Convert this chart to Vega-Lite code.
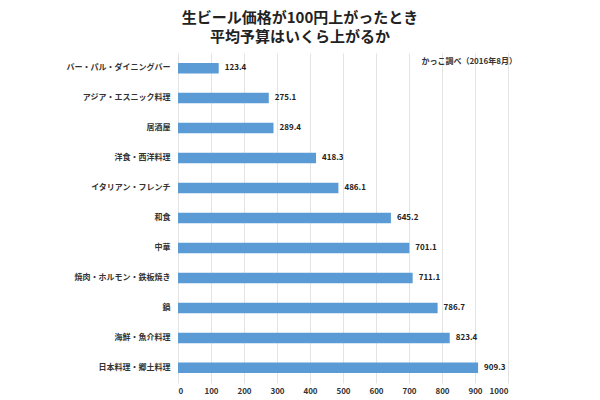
{
  "$schema": "https://vega.github.io/schema/vega-lite/v6.json",
  "autosize": "none",
  "width": 330,
  "height": 330,
  "padding": {"left": 178, "top": 53, "right": 92, "bottom": 17},
  "background": "white",
  "title": {
    "text": ["生ビール価格が100円上がったとき", "平均予算はいくら上がるか"],
    "font": "Noto Sans CJK JP",
    "fontSize": 15,
    "fontWeight": "bold",
    "color": "#222222",
    "lineHeight": 19,
    "anchor": "middle",
    "dx": -43,
    "offset": 8
  },
  "data": {
    "values": [
      {"category": "バー・パル・ダイニングバー", "value": 123.4},
      {"category": "アジア・エスニック料理", "value": 275.1},
      {"category": "居酒屋", "value": 289.4},
      {"category": "洋食・西洋料理", "value": 418.3},
      {"category": "イタリアン・フレンチ", "value": 486.1},
      {"category": "和食", "value": 645.2},
      {"category": "中華", "value": 701.1},
      {"category": "焼肉・ホルモン・鉄板焼き", "value": 711.1},
      {"category": "鍋", "value": 786.7},
      {"category": "海鮮・魚介料理", "value": 823.4},
      {"category": "日本料理・郷土料理", "value": 909.3}
    ]
  },
  "config": {
    "view": {"stroke": null},
    "font": "Noto Sans CJK JP",
    "axisX": {
      "values": [0, 100, 200, 300, 400, 500, 600, 700, 800, 900, 1000],
      "format": "d",
      "labelOverlap": false,
      "domain": false,
      "ticks": false,
      "grid": true,
      "gridColor": "#e3e3e3",
      "gridWidth": 1,
      "labelFont": "Noto Sans CJK JP",
      "labelFontSize": 8,
      "labelFontWeight": "bold",
      "labelColor": "#333333",
      "labelPadding": 4,
      "title": null
    }
  },
  "encoding": {
    "y": {
      "field": "category",
      "type": "nominal",
      "sort": null,
      "title": null,
      "scale": {"paddingInner": 0.65, "paddingOuter": 0.33},
      "axis": {
        "domain": false,
        "ticks": false,
        "labelFont": "Noto Sans CJK JP",
        "labelFontSize": 8,
        "labelFontWeight": "bold",
        "labelColor": "#333333",
        "labelPadding": 8
      }
    }
  },
  "layer": [
    {
      "mark": {"type": "bar", "color": "#5B9BD5"},
      "encoding": {
        "x": {
          "field": "value",
          "type": "quantitative",
          "title": null,
          "scale": {"domain": [0, 1000], "nice": false}
        }
      }
    },
    {
      "mark": {"type": "text", "align": "left", "dx": 6, "fontSize": 8, "fontWeight": "bold", "color": "#222222"},
      "encoding": {
        "x": {"field": "value", "type": "quantitative", "title": null},
        "text": {"field": "value", "type": "quantitative", "format": ".1f"}
      }
    },
    {
      "data": {"values": [{"category": "バー・パル・ダイニングバー", "note": "かっこ調べ（2016年8月）"}]},
      "mark": {"type": "text", "align": "right", "dx": 9, "dy": -6, "fontSize": 8, "fontWeight": "bold", "color": "#333333"},
      "encoding": {
        "x": {"datum": 1000, "type": "quantitative", "title": null},
        "text": {"field": "note"}
      }
    }
  ]
}
